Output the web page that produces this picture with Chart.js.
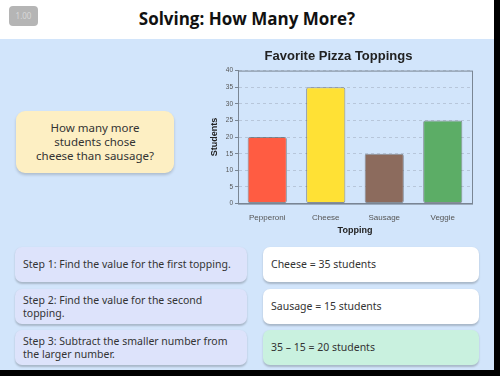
<!DOCTYPE html>
<html>
<head>
<meta charset="utf-8">
<script src="https://cdn.jsdelivr.net/npm/chart.js@4.4.1/dist/chart.umd.min.js"></script>
<style>
  html, body { margin: 0; padding: 0; background: #000; }
  #page { position: relative; width: 494px; height: 370px; background: #d2e5fb; overflow: hidden; font-family: "Noto Sans", sans-serif; }
  #header { position: absolute; left: 0; top: 0; width: 494px; height: 39px; background: #fff; }
  #badge { position: absolute; left: 9px; top: 6px; width: 29px; height: 20px; background: #b5b5b5; border-radius: 4px; color: #d8d8d8; font-size: 8px; line-height: 20px; text-align: center; }
  #title { position: absolute; left: 0; top: 7px; width: 494px; text-align: center; font-family: "Open Sans", sans-serif; font-weight: bold; font-size: 17px; color: #111; }
  #question { position: absolute; left: 16px; top: 111px; width: 158px; height: 62px; background: #fdefc3; border-radius: 9px; box-shadow: 0 2px 3px rgba(0,0,0,0.18); display: flex; align-items: center; justify-content: center; text-align: center; font-size: 11.5px; line-height: 14px; color: #333; }
  .box { position: absolute; height: 35px; border-radius: 7px; box-shadow: 0 1.5px 2px rgba(0,0,0,0.2); display: flex; align-items: center; padding: 0 8px; box-sizing: border-box; font-size: 10.5px; line-height: 13px; color: #333; }
  .step { left: 15px; width: 232px; background: #dde3fb; }
  .ans { left: 263px; width: 216px; background: #fff; }
  .ans.final { background: #c9f1df; }
  #chartWrap { position: absolute; left: 205px; top: 42px; width: 280px; height: 198px; }
</style>
</head>
<body>
<div id="page">
  <div id="header">
    <div id="badge">1.00</div>
    <div id="title">Solving: How Many More?</div>
  </div>
  <div id="question">How many more<br>students chose<br>cheese than sausage?</div>
  <div id="chartWrap"><canvas id="chart"></canvas></div>
  <div class="box step" style="top:247px">Step 1: Find the value for the first topping.</div>
  <div class="box ans" style="top:247px">Cheese = 35 students</div>
  <div class="box step" style="top:289px">Step 2: Find the value for the second topping.</div>
  <div class="box ans" style="top:289px">Sausage = 15 students</div>
  <div class="box step" style="top:330px">Step 3: Subtract the smaller number from the larger number.</div>
  <div class="box ans final" style="top:330px">35 &ndash; 15 = 20 students</div>
</div>
<script>
const toppings = ['Pepperoni', 'Cheese', 'Sausage', 'Veggie'];
const students = [20, 35, 15, 25];
const barColors = ['#ff5c42', '#ffe135', '#8c6b5d', '#5cad66'];

// box around the plot area (top and right edges too)
const frame = {
  id: 'frame',
  afterDraw(chart) {
    const { ctx, chartArea: a } = chart;
    ctx.save();
    ctx.strokeStyle = '#7a8694';
    ctx.lineWidth = 1;
    ctx.strokeRect(a.left + 0.5, a.top + 0.5, a.right - a.left, a.bottom - a.top);
    ctx.restore();
  }
};

new Chart(document.getElementById('chart'), {
  type: 'bar',
  data: {
    labels: toppings,
    datasets: [{
      data: students,
      backgroundColor: barColors,
      borderColor: 'rgba(70,70,70,0.55)',
      borderWidth: 1,
      borderRadius: 2,
      borderSkipped: false,
      barPercentage: 0.67,
      categoryPercentage: 1
    }]
  },
  options: {
    responsive: true,
    maintainAspectRatio: false,
    animation: false,
    layout: { padding: { left: 0, right: 13, top: 0, bottom: 0 } },
    plugins: {
      legend: { display: false },
      tooltip: { enabled: false },
      title: {
        display: true,
        text: 'Favorite Pizza Toppings',
        color: '#222',
        font: { family: 'Liberation Sans', size: 13, weight: 'bold' },
        padding: { top: 7, bottom: 6 }
      }
    },
    scales: {
      x: {
        grid: { display: false },
        border: { color: '#7a8694' },
        ticks: { color: '#555', font: { family: 'Liberation Sans', size: 8 }, padding: 1 },
        title: { display: true, text: 'Topping', color: '#222', font: { family: 'Liberation Sans', size: 9, weight: 'bold' }, padding: { top: 2 } }
      },
      y: {
        min: 0,
        max: 40,
        afterFit(scale) { scale.width = 33; },
        grid: { color: 'rgba(150,160,178,0.45)', drawOnChartArea: true, tickLength: 3, tickColor: '#7a8694' },
        border: { color: '#7a8694', dash: [3, 3] },
        ticks: { stepSize: 5, color: '#555', font: { family: 'Liberation Sans', size: 6.5 }, padding: 2 },
        title: { display: true, text: 'Students', color: '#222', font: { family: 'Liberation Sans', size: 9, weight: 'bold' }, padding: { bottom: 2 } }
      }
    }
  },
  plugins: [frame]
});
</script>
</body>
</html>
